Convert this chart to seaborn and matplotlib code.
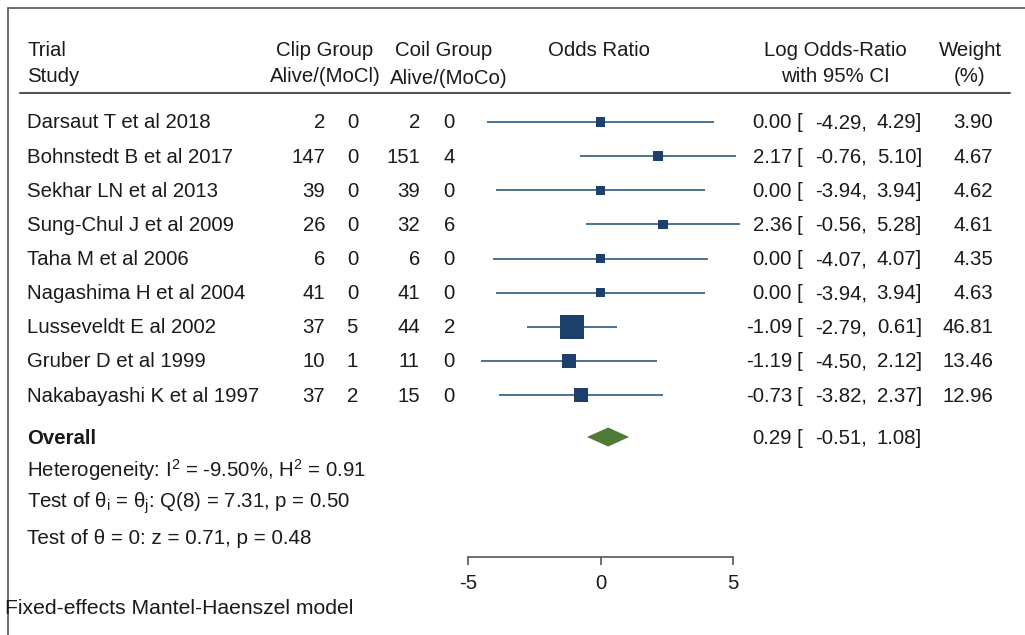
import numpy as np
import pandas as pd
import matplotlib
matplotlib.use("Agg")
import matplotlib.pyplot as plt
import seaborn as sns
from matplotlib.lines import Line2D

# ---------------- data ----------------
studies = ["Darsaut T et al 2018", "Bohnstedt B et al 2017", "Sekhar LN et al 2013",
           "Sung-Chul J et al 2009", "Taha M et al 2006", "Nagashima H et al 2004",
           "Lusseveldt E al 2002", "Gruber D et al 1999", "Nakabayashi K et al 1997"]
clip_alive = [2, 147, 39, 26, 6, 41, 37, 10, 37]
clip_moc = [0, 0, 0, 0, 0, 0, 5, 1, 2]
coil_alive = [2, 151, 39, 32, 6, 41, 44, 11, 15]
coil_moc = [0, 4, 0, 6, 0, 0, 2, 0, 0]
log_or = [0.00, 2.17, 0.00, 2.36, 0.00, 0.00, -1.09, -1.19, -0.73]
ci_low = [-4.29, -0.76, -3.94, -0.56, -4.07, -3.94, -2.79, -4.50, -3.82]
ci_high = [4.29, 5.10, 3.94, 5.28, 4.07, 3.94, 0.61, 2.12, 2.37]
weight = [3.90, 4.67, 4.62, 4.61, 4.35, 4.63, 46.81, 13.46, 12.96]
overall_est, overall_low, overall_high = 0.29, -0.51, 1.08
x_ticks = [-5, 0, 5]

df = pd.DataFrame({"study": studies, "row": np.arange(len(studies)),
                   "est": log_or, "lo": ci_low, "hi": ci_high, "w": weight})

# ---------------- style ----------------
sns.set_theme(style="white")
plt.rcParams['font.family'] = ['Liberation Sans', 'DejaVu Sans']
plt.rcParams['mathtext.fontset'] = 'custom'
plt.rcParams['mathtext.rm'] = 'Liberation Sans'
plt.rcParams['mathtext.it'] = 'Liberation Sans:italic'
plt.rcParams['mathtext.bf'] = 'Liberation Sans:bold'

FS = 14.7
TXT = "#1a1a1a"
SQ = "#1c3f6c"
CI = "#4a7292"
DIA = "#4e7b35"

W, H = 1025, 635
fig = plt.figure(figsize=(W / 100, H / 100), dpi=100)
bg = fig.add_axes([0, 0, 1, 1])
bg.set_xlim(0, W)
bg.set_ylim(H, 0)
bg.axis("off")

ROW0, STEP = 122, 34.125
def ry(i):
    return ROW0 + STEP * i

# frame & header rule
bg.add_line(Line2D([8, W], [8, 8], color="#555555", lw=1.2))
bg.add_line(Line2D([8, 8], [8, H], color="#555555", lw=1.2))
bg.add_line(Line2D([20, 1010], [93, 93], color="#555555", lw=1.5))

def t(x, y, s, ha="left", **kw):
    kw.setdefault("fontsize", FS)
    bg.text(x, y, s, ha=ha, va="center", color=TXT, **kw)

# header
t(27, 51, "Trial"); t(27, 77, "Study")
t(325, 51, "Clip Group", ha="center"); t(325, 77, "Alive/(MoCl)", ha="center")
t(395, 51, "Coil Group"); t(390, 79, "Alive/(MoCo)")
t(599, 51, "Odds Ratio", ha="center")
t(835, 51, "Log Odds-Ratio", ha="center"); t(835, 77, "with 95% CI", ha="center")
t(970, 51, "Weight", ha="center"); t(970, 77, "(%)", ha="center")

# rows
for i in range(len(studies)):
    y = ry(i) + 1
    t(27, y, studies[i])
    t(325, y, str(clip_alive[i]), ha="right")
    t(358, y, str(clip_moc[i]), ha="right")
    t(420, y, str(coil_alive[i]), ha="right")
    t(455, y, str(coil_moc[i]), ha="right")
    t(792, y, f"{log_or[i]:.2f}", ha="right")
    t(797, y, "[")
    t(867, y, f"{ci_low[i]:.2f},", ha="right")
    t(922, y, f"{ci_high[i]:.2f}]", ha="right")
    t(993, y, f"{weight[i]:.2f}", ha="right")

YO = 437
t(27, YO + 1, "Overall", fontweight="bold")
t(792, YO + 1, f"{overall_est:.2f}", ha="right")
t(797, YO + 1, "[")
t(867, YO + 1, f"{overall_low:.2f},", ha="right")
t(922, YO + 1, f"{overall_high:.2f}]", ha="right")

t(27, 470, r"Heterogeneity: $\mathregular{I^{2}}$ = -9.50%, $\mathregular{H^{2}}$ = 0.91")
t(27, 503, r"Test of $\mathregular{θ_{i}}$ = $\mathregular{θ_{j}}$: Q(8) = 7.31, p = 0.50")
t(27, 539, "Test of θ = 0: z = 0.71, p = 0.48", fontsize=FS + 0.2)
t(5, 609, "Fixed-effects Mantel-Haenszel model", fontsize=FS + 0.5)

# ---------------- forest axes ----------------
AX_L, AX_R, AX_T, AX_B = 468, 733, 100, 557
ax = fig.add_axes([AX_L / W, (H - AX_B) / H, (AX_R - AX_L) / W, (AX_B - AX_T) / H])
ax.set_xlim(-5, 5)
ax.set_ylim((AX_B - ROW0) / STEP, (AX_T - ROW0) / STEP)
ax.patch.set_alpha(0)

ax.hlines(df["row"], df["lo"], df["hi"], color=CI, lw=1.4, clip_on=False, zorder=2)
sns.scatterplot(data=df, x="est", y="row", size="w", sizes=(42, 300), marker="s",
                color=SQ, edgecolor="none", linewidth=0, legend=False, ax=ax,
                zorder=3, clip_on=False)

yo = (YO - ROW0) / STEP
h = 9.5 / STEP
ax.fill([overall_low, overall_est, overall_high, overall_est],
        [yo, yo - h, yo, yo + h], color=DIA, zorder=3, clip_on=False, lw=0)

for s in ["left", "top", "right"]:
    ax.spines[s].set_visible(False)
ax.spines["bottom"].set_bounds(-5, 5)
ax.spines["bottom"].set_color("#555555")
ax.spines["bottom"].set_linewidth(1.2)
ax.set_xticks(x_ticks)
ax.set_xticklabels([str(v) for v in x_ticks])
ax.set_yticks([])
ax.tick_params(axis="x", direction="out", length=6, width=1.2, color="#555555",
               labelsize=FS, labelcolor=TXT, pad=6, bottom=True)
ax.set_xlabel("")
ax.set_ylabel("")

fig.savefig("out.png", dpi=100, facecolor="white")
